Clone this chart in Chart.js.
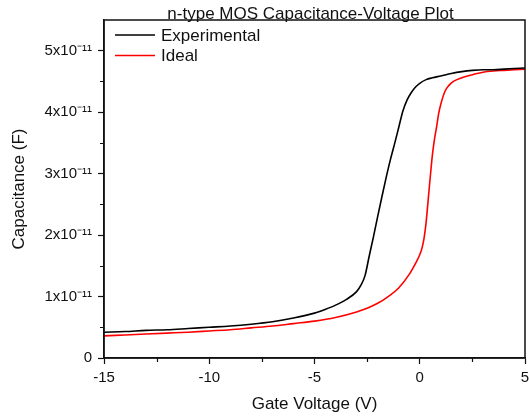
<!DOCTYPE html>
<html>
<head>
<meta charset="utf-8">
<script src="https://cdn.jsdelivr.net/npm/chart.js@4/dist/chart.umd.min.js"></script>
<style>
  html, body { margin: 0; padding: 0; background: #ffffff; }
  canvas { display: block; }
</style>
</head>
<body>
<canvas id="c" width="529" height="418"></canvas>
<script>
// ---- data ----
const chartTitle = "n-type MOS Capacitance-Voltage Plot";
const xAxisTitle = "Gate Voltage (V)";
const yAxisTitle = "Capacitance (F)";

const expLabel = "Experimental";
const expVoltage = [-15, -14, -13, -12, -11, -10, -9, -8, -7, -6, -5, -4.5, -4, -3.5, -3, -2.8, -2.6, -2.4, -2.2, -2.0, -1.8, -1.6, -1.4, -1.2, -1.0, -0.8, -0.6, -0.4, -0.2, 0, 0.3, 0.6, 1, 1.5, 2, 2.5, 3, 3.5, 4, 4.5, 5];
const expCap = [0.42e-11, 0.43e-11, 0.45e-11, 0.46e-11, 0.48e-11, 0.50e-11, 0.52e-11, 0.55e-11, 0.59e-11, 0.65e-11, 0.73e-11, 0.79e-11, 0.86e-11, 0.95e-11, 1.08e-11, 1.18e-11, 1.34e-11, 1.66e-11, 1.97e-11, 2.30e-11, 2.62e-11, 2.93e-11, 3.22e-11, 3.48e-11, 3.75e-11, 4.02e-11, 4.20e-11, 4.32e-11, 4.41e-11, 4.47e-11, 4.53e-11, 4.56e-11, 4.59e-11, 4.63e-11, 4.66e-11, 4.68e-11, 4.69e-11, 4.69e-11, 4.70e-11, 4.71e-11, 4.72e-11];

const idealLabel = "Ideal";
const idealVoltage = [-15, -14, -13, -12, -11, -10, -9, -8, -7, -6, -5, -4, -3, -2.5, -2, -1.5, -1, -0.5, -0.2, 0, 0.1, 0.2, 0.3, 0.4, 0.5, 0.6, 0.7, 0.8, 0.9, 1.0, 1.2, 1.4, 1.6, 2.0, 2.5, 3.0, 3.5, 4.0, 4.5, 5];
const idealCap = [0.36e-11, 0.375e-11, 0.39e-11, 0.405e-11, 0.42e-11, 0.44e-11, 0.46e-11, 0.49e-11, 0.52e-11, 0.56e-11, 0.60e-11, 0.66e-11, 0.75e-11, 0.81e-11, 0.89e-11, 1.00e-11, 1.14e-11, 1.36e-11, 1.54e-11, 1.68e-11, 1.78e-11, 1.94e-11, 2.2e-11, 2.57e-11, 2.95e-11, 3.30e-11, 3.56e-11, 3.76e-11, 3.98e-11, 4.13e-11, 4.34e-11, 4.44e-11, 4.50e-11, 4.56e-11, 4.61e-11, 4.65e-11, 4.67e-11, 4.68e-11, 4.69e-11, 4.70e-11];

const xTicks = [-15, -10, -5, 0, 5];
const xMinorTicks = [-12.5, -7.5, -2.5, 2.5];
const yTicks = [0, 1e-11, 2e-11, 3e-11, 4e-11, 5e-11];
const yTickLabels = ["0", "1x10\u207B\u00B9\u00B9", "2x10\u207B\u00B9\u00B9", "3x10\u207B\u00B9\u00B9", "4x10\u207B\u00B9\u00B9", "5x10\u207B\u00B9\u00B9"];
const yMinorTicks = [0.5e-11, 1.5e-11, 2.5e-11, 3.5e-11, 4.5e-11];
const xRange = [-15, 5];
const yRange = [0, 5.5e-11];

// ---- styling ----
const FONT = "'Liberation Sans', Arial, sans-serif";
const INK = "#111111";

function pts(xs, ys) { return xs.map((x, i) => ({ x: x, y: ys[i] })); }

const decorPlugin = {
  id: 'decor',
  afterDraw(chart) {
    const ctx = chart.ctx;
    const a = chart.chartArea;
    const xs = chart.scales.x, ys = chart.scales.y;
    ctx.save();
    // frame
    ctx.strokeStyle = INK;
    ctx.lineWidth = 1.5;
    ctx.strokeRect(a.left, a.top, a.right - a.left, a.bottom - a.top);
    // minor ticks
    ctx.lineWidth = 1.2;
    ctx.beginPath();
    xMinorTicks.forEach(v => {
      const p = Math.round(xs.getPixelForValue(v)) + 0.5;
      ctx.moveTo(p, a.bottom); ctx.lineTo(p, a.bottom + 4);
    });
    yMinorTicks.forEach(v => {
      const p = Math.round(ys.getPixelForValue(v)) + 0.5;
      ctx.moveTo(a.left, p); ctx.lineTo(a.left - 4, p);
    });
    ctx.stroke();
    // title (overlapping the top frame as in the reference)
    ctx.fillStyle = INK;
    ctx.font = "17px " + FONT;
    ctx.textAlign = 'center';
    ctx.textBaseline = 'alphabetic';
    ctx.fillText(chartTitle, (a.left + a.right) / 2 - 4, 19);
    // legend inside the plot
    ctx.textAlign = 'left';
    ctx.textBaseline = 'middle';
    chart.data.datasets.forEach((ds, i) => {
      const y = a.top + 15 + i * 20.5;
      ctx.strokeStyle = ds.borderColor;
      ctx.lineWidth = 1.6;
      ctx.beginPath();
      ctx.moveTo(a.left + 11, y); ctx.lineTo(a.left + 51, y);
      ctx.stroke();
      ctx.fillStyle = INK;
      ctx.font = "17px " + FONT;
      ctx.fillText(ds.label, a.left + 57, y + 1);
    });
    ctx.restore();
  }
};

new Chart(document.getElementById('c'), {
  type: 'line',
  data: {
    datasets: [
      { label: expLabel, data: pts(expVoltage, expCap), borderColor: '#000000', borderWidth: 1.6, pointRadius: 0, cubicInterpolationMode: 'monotone', fill: false },
      { label: idealLabel, data: pts(idealVoltage, idealCap), borderColor: '#ff0000', borderWidth: 1.6, pointRadius: 0, cubicInterpolationMode: 'monotone', fill: false }
    ]
  },
  options: {
    responsive: false,
    animation: false,
    devicePixelRatio: 1,
    layout: { padding: { left: 0, right: 4, top: 20, bottom: 0 } },
    plugins: { legend: { display: false }, title: { display: false }, tooltip: { enabled: false } },
    scales: {
      x: {
        type: 'linear',
        min: xRange[0], max: xRange[1],
        afterBuildTicks: s => { s.ticks = xTicks.map(v => ({ value: v })); },
        afterFit: s => { s.height = 60; s.paddingLeft = 0; s.paddingRight = 0; },
        border: { display: true, color: INK, width: 1.5 },
        grid: { drawOnChartArea: false, drawTicks: true, tickLength: 6, color: INK, tickWidth: 1.2 },
        ticks: { color: INK, font: { family: FONT, size: 15 }, padding: 5, maxRotation: 0, callback: v => String(v) },
        title: { display: true, text: xAxisTitle, color: INK, font: { family: FONT, size: 17 }, padding: { top: 3, bottom: 3 } }
      },
      y: {
        type: 'linear',
        min: yRange[0], max: yRange[1],
        afterBuildTicks: s => { s.ticks = yTicks.map(v => ({ value: v })); },
        afterFit: s => { s.width = 104; s.paddingTop = 0; s.paddingBottom = 0; },
        border: { display: true, color: INK, width: 1.5 },
        grid: { drawOnChartArea: false, drawTicks: true, tickLength: 6, color: INK, tickWidth: 1.2 },
        ticks: { color: INK, font: { family: FONT, size: 15 }, padding: 6,
                 callback: (v, i) => yTickLabels[yTicks.findIndex(t => Math.abs(t - v) < 1e-15)] },
        title: { display: true, text: yAxisTitle, color: INK, font: { family: FONT, size: 17 }, padding: { top: 9, bottom: 9 } }
      }
    }
  },
  plugins: [decorPlugin]
});
</script>
</body>
</html>
